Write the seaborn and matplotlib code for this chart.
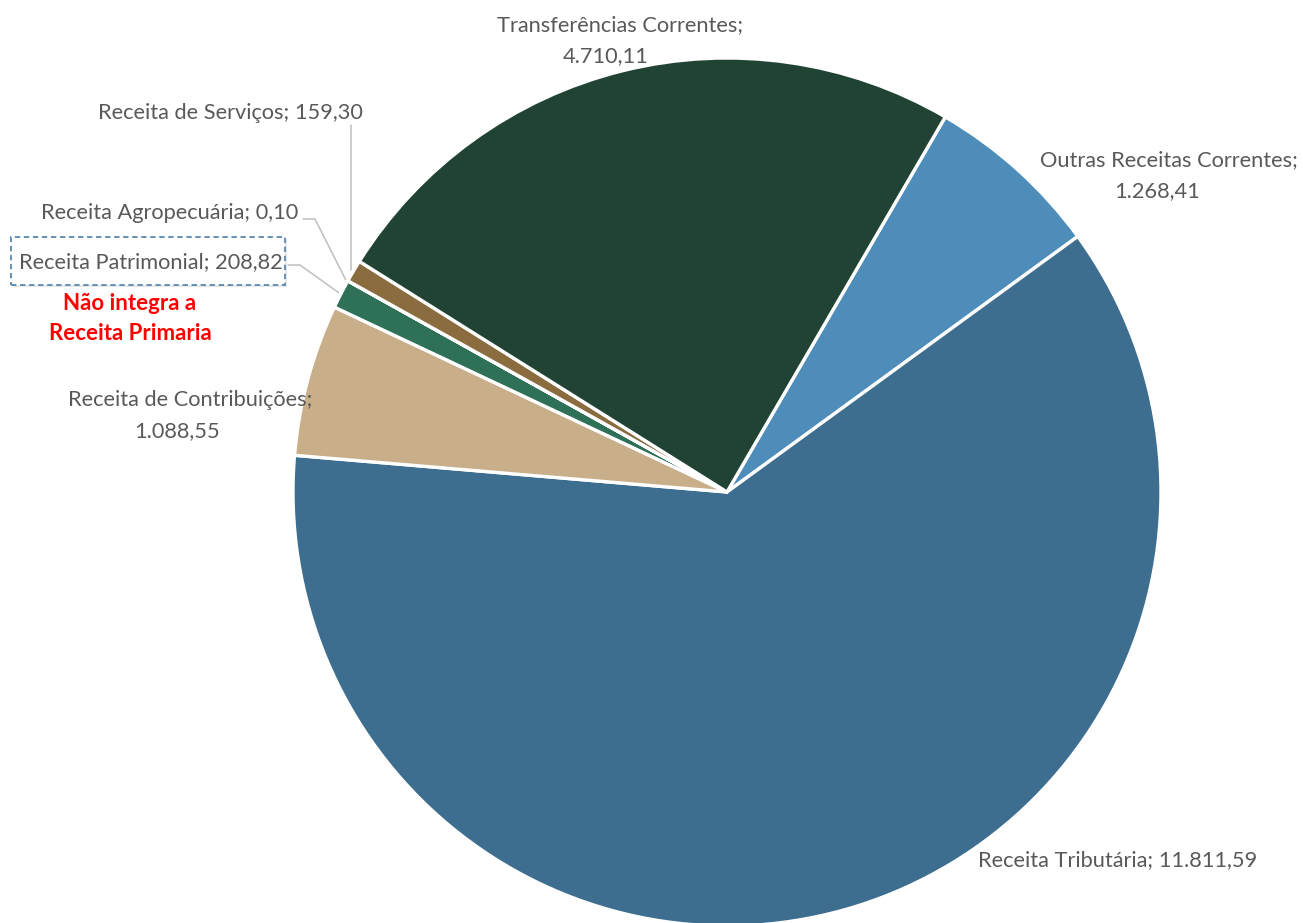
import numpy as np
import matplotlib
matplotlib.use("Agg")
import matplotlib.pyplot as plt
from matplotlib.patches import Rectangle
import seaborn as sns

# Receitas correntes por origem (R$ milhões)
categorias = [
    "Outras Receitas Correntes",
    "Receita Tributária",
    "Receita de Contribuições",
    "Receita Patrimonial",
    "Receita Agropecuária",
    "Receita de Serviços",
    "Transferências Correntes",
]
valores = [1268.41, 11811.59, 1088.55, 208.82, 0.10, 159.30, 4710.11]
cores = ["#4E8DB9", "#3D6E8F", "#C8AE89", "#2E7157", "#6B8E3E", "#8A6C3F", "#204334"]

sns.set_theme(style="white")
plt.rcParams["font.family"] = ["Lato", "DejaVu Sans"]

W, H = 1303, 923
fig = plt.figure(figsize=(W / 100, H / 100), dpi=100)
ax = fig.add_axes([0, 0, 1, 1])

cx, cy, R = 727, H - 492, 434
wedges, _ = ax.pie(
    valores, colors=cores, startangle=59.8, counterclock=False,
    radius=R, center=(cx, cy), frame=True,
    wedgeprops=dict(edgecolor="white", linewidth=2.4),
)
ax.set_xlim(0, W)
ax.set_ylim(0, H)
ax.set_aspect("equal")
ax.axis("off")


def fmt(v):
    s = f"{v:,.2f}"
    return s.replace(",", "X").replace(".", ",").replace("X", ".")


def borda(i, r=1.006):
    w = wedges[i]
    a = np.deg2rad((w.theta1 + w.theta2) / 2)
    return cx + r * R * np.cos(a), cy + r * R * np.sin(a)


def yy(y):
    return H - y


cor_txt = "#595959"
fs = 15.7
lab = dict(color=cor_txt, fontsize=fs, va="center", zorder=4)


def rotulo2(i, x1, x2, y1, dy=31):
    # rótulo em duas linhas: nome; valor
    ax.text(x1, yy(y1), f"{categorias[i]};", ha="center", **lab)
    ax.text(x2, yy(y1 + dy), fmt(valores[i]), ha="center", **lab)


# Rótulos
rotulo2(6, 620, 606, 25)
rotulo2(0, 1169, 1157, 160)
rotulo2(2, 190, 177, 400)
ax.text(978, yy(860), f"{categorias[1]}; {fmt(valores[1])}", ha="left", **lab)
ax.text(283, yy(262), f"{categorias[3]}; {fmt(valores[3])}", ha="right", **lab)
ax.text(298, yy(213), f"{categorias[4]}; {fmt(valores[4])}", ha="right", **lab)
ax.text(363, yy(113), f"{categorias[5]}; {fmt(valores[5])}", ha="right", **lab)

# Linhas de chamada
linha = dict(color="#BFBFBF", lw=1.1, zorder=1)
x3, y3 = borda(3)
ax.plot([288, 300, x3], [yy(265), yy(265), y3], **linha)
x4, y4 = borda(4)
ax.plot([303, 315, x4], [yy(219), yy(219), y4], **linha)
x5, y5 = borda(5)
ax.plot([x5, x5], [yy(125), y5], **linha)

# Destaque da Receita Patrimonial
ax.add_patch(Rectangle((13, yy(287)), 274, 48, facecolor="#D9D9D9", edgecolor="none",
                       alpha=0.6, zorder=2))
ax.add_patch(Rectangle((11, yy(285)), 274, 48, facecolor="white", edgecolor="none",
                       zorder=2.5))
ax.add_patch(Rectangle((11, yy(285)), 274, 48, facecolor="none", edgecolor="#5B89B0",
                       linestyle=(0, (3, 2)), lw=1.3, zorder=3))

ax.text(130, yy(303), "Não integra a", ha="center", va="center",
        color="#FF0000", fontsize=16, fontweight="bold", zorder=4)
ax.text(130, yy(333), "Receita Primaria", ha="center", va="center",
        color="#FF0000", fontsize=16, fontweight="bold", zorder=4)

fig.savefig("out.png", dpi=100, facecolor="white")
